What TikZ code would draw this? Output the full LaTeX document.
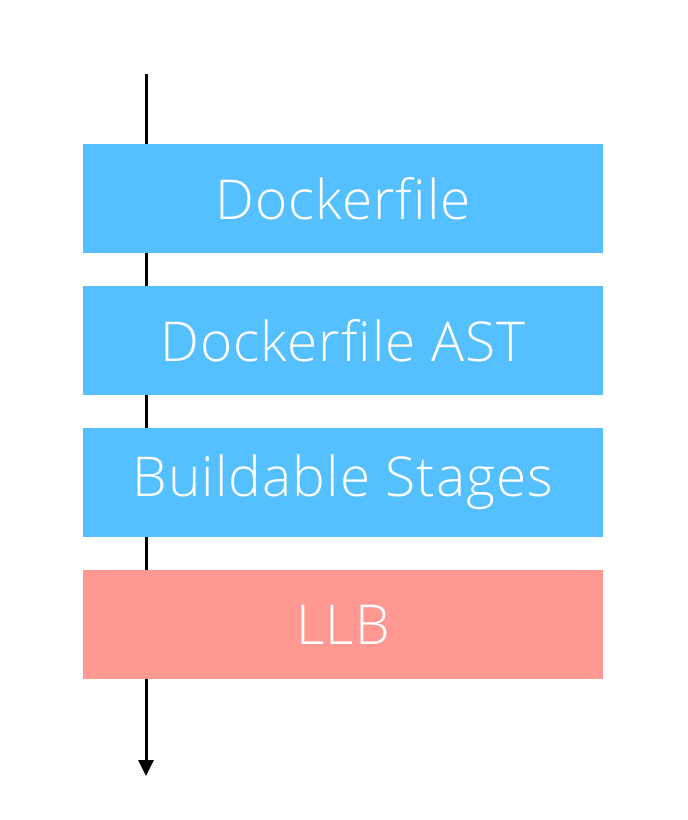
\documentclass[tikz,border=0pt]{standalone}
\usepackage{fontspec}
\setmainfont{Open Sans Light}[Ligatures=NoCommon, LetterSpace=2]
\usetikzlibrary{arrows.meta}
\definecolor{bluebox}{HTML}{55C0FF}
\definecolor{redbox}{HTML}{FF9890}
\tikzset{
  layer/.style={minimum width=520pt, minimum height=109pt, inner sep=0pt, text=white, font=\fontsize{55}{66}\selectfont},
  flow/.style={line width=3pt, -{Triangle[length=16pt,width=15pt]}}
}
\begin{document}
\begin{tikzpicture}[x=1pt,y=-1pt]
\useasboundingbox (0,0) rectangle (688,820);
\coordinate (top) at (146,74);
\coordinate (bot) at (146,776);
\draw[flow] (top) -- (bot);
\node[layer, fill=bluebox] (df) at (343,198.5) {Dockerfile};
\node[layer, fill=bluebox] (ast) at (343,340.5) {Dockerfile AST};
\node[layer, fill=bluebox] (bs) at (343,482.5) {Buildable Stages};
\node[layer, fill=redbox] (llb) at (343,624.5) {LLB};
\end{tikzpicture}
\end{document}
